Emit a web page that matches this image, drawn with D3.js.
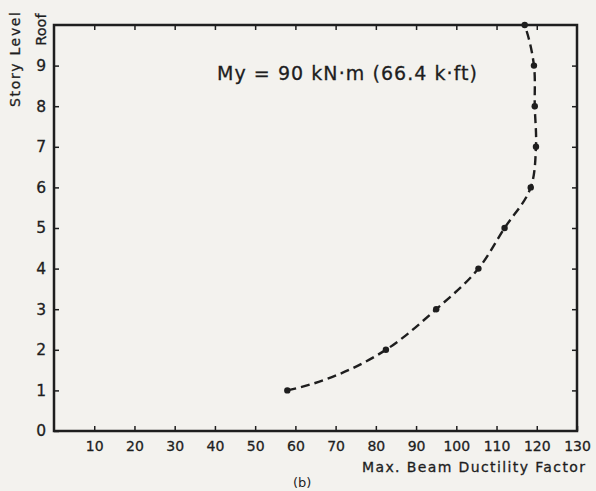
<!DOCTYPE html>
<html>
<head>
<meta charset="utf-8">
<script src="https://cdn.jsdelivr.net/npm/d3@7"></script>
<style>
  body { margin: 0; background: #f3f2ee; }
  svg { display: block; }
  text { font-family: "DejaVu Sans", sans-serif; fill: #1e1e1e; }
</style>
</head>
<body>
<div id="vis"></div>
<script>
// data
const LEVELS = [1, 2, 3, 4, 5, 6, 7, 8, 9, 10];
const DUCTILITY = [58, 82.5, 95, 105.5, 112, 118.5, 119.8, 119.5, 119.3, 117];
const X_TICKS = [10, 20, 30, 40, 50, 60, 70, 80, 90, 100, 110, 120, 130];
const Y_TICKS = [0, 1, 2, 3, 4, 5, 6, 7, 8, 9, 10];
const Y_LABELS = ["0", "1", "2", "3", "4", "5", "6", "7", "8", "9", "Roof"];

const FRAME_WIDTH = 596;
const FRAME_HEIGHT = 491;
const PLOT = {left: 54, right: 577, top: 25, bottom: 431};
const INK = "#1e1e1e";

const SVG = d3.select("#vis")
  .append("svg")
    .attr("width", FRAME_WIDTH)
    .attr("height", FRAME_HEIGHT);

const X_SCALE = d3.scaleLinear().domain([0, 130]).range([PLOT.left, PLOT.right]);
const Y_SCALE = d3.scaleLinear().domain([0, 10]).range([PLOT.bottom, PLOT.top]);

// smooth curve through the points, chord-weighted tangents,
// end tangents mirrored so the ends bend like a hand-drawn french curve
function curveHand(context) {
  let pts = [];
  return {
    areaStart() {}, areaEnd() {},
    lineStart() { pts = []; },
    point(x, y) { pts.push([+x, +y]); },
    lineEnd() {
      const n = pts.length;
      if (n === 0) return;
      context.moveTo(pts[0][0], pts[0][1]);
      if (n < 3) { pts.slice(1).forEach((p) => context.lineTo(p[0], p[1])); return; }
      const seg = [];
      for (let i = 0; i < n - 1; i++) {
        const dx = pts[i + 1][0] - pts[i][0], dy = pts[i + 1][1] - pts[i][1];
        const d = Math.hypot(dx, dy);
        seg.push({d: d, u: [dx / d, dy / d]});
      }
      const norm = (v) => { const l = Math.hypot(v[0], v[1]); return [v[0] / l, v[1] / l]; };
      const tan = new Array(n);
      for (let i = 1; i < n - 1; i++) {
        const a = seg[i - 1], b = seg[i];
        tan[i] = norm([b.d * a.u[0] + a.d * b.u[0], b.d * a.u[1] + a.d * b.u[1]]);
      }
      const mirror = (t, u) => {
        const k = t[0] * u[0] + t[1] * u[1];
        return norm([2 * k * u[0] - t[0], 2 * k * u[1] - t[1]]);
      };
      tan[0] = mirror(tan[1], seg[0].u);
      tan[n - 1] = mirror(tan[n - 2], seg[n - 2].u);
      for (let i = 0; i < n - 1; i++) {
        const h = seg[i].d / 3;
        context.bezierCurveTo(
          pts[i][0] + tan[i][0] * h, pts[i][1] + tan[i][1] * h,
          pts[i + 1][0] - tan[i + 1][0] * h, pts[i + 1][1] - tan[i + 1][1] * h,
          pts[i + 1][0], pts[i + 1][1]);
      }
    }
  };
}

// frame
SVG.append("rect")
  .attr("x", PLOT.left)
  .attr("y", PLOT.top)
  .attr("width", PLOT.right - PLOT.left)
  .attr("height", PLOT.bottom - PLOT.top)
  .attr("fill", "none")
  .attr("stroke", INK)
  .attr("stroke-width", 2.5);

// bottom axis, ticks pointing in
const xAxis = SVG.append("g")
  .attr("transform", "translate(0," + PLOT.bottom + ")")
  .call(d3.axisBottom(X_SCALE).tickValues(X_TICKS).tickSize(-5).tickPadding(10));
xAxis.select(".domain").remove();
xAxis.selectAll("line").attr("stroke", INK).attr("stroke-width", 1.5);
xAxis.selectAll("text").attr("font-size", "14px").style("fill", INK)
  .style("stroke", INK).style("stroke-width", 0.3);

// top ticks
const xTop = SVG.append("g")
  .attr("transform", "translate(0," + PLOT.top + ")")
  .call(d3.axisTop(X_SCALE).tickValues(X_TICKS.slice(0, -1)).tickSize(-5).tickFormat(""));
xTop.select(".domain").remove();
xTop.selectAll("line").attr("stroke", INK).attr("stroke-width", 1.5);

// left axis
const yAxis = SVG.append("g")
  .attr("transform", "translate(" + PLOT.left + ",0)")
  .call(d3.axisLeft(Y_SCALE).tickValues(Y_TICKS).tickSize(-5).tickPadding(8)
    .tickFormat((d, i) => Y_LABELS[i]));
yAxis.select(".domain").remove();
yAxis.selectAll("line").attr("stroke", INK).attr("stroke-width", 1.5);
yAxis.selectAll("text").attr("font-size", "15.5px").style("fill", INK)
  .style("stroke", INK).style("stroke-width", 0.3);
// roof label is written sideways
yAxis.selectAll(".tick")
  .filter((d) => d === 10)
  .select("text")
    .attr("x", null)
    .attr("dy", null)
    .attr("text-anchor", "end")
    .attr("transform", "translate(-8,-12) rotate(-90)")
    .attr("font-size", "14.5px");
yAxis.selectAll(".tick").filter((d) => d === 10).select("line").remove();

// right ticks
const yRight = SVG.append("g")
  .attr("transform", "translate(" + PLOT.right + ",0)")
  .call(d3.axisRight(Y_SCALE).tickValues(Y_TICKS.slice(1, -1)).tickSize(-5).tickFormat(""));
yRight.select(".domain").remove();
yRight.selectAll("line").attr("stroke", INK).attr("stroke-width", 1.5);

// axis titles
SVG.append("text")
  .attr("transform", "translate(20,12) rotate(-90)")
  .attr("text-anchor", "end")
  .attr("font-size", "14px")
  .attr("textLength", 95)
  .style("stroke", INK).style("stroke-width", 0.3)
  .text("Story  Level");

SVG.append("text")
  .attr("x", 585)
  .attr("y", 472)
  .attr("text-anchor", "end")
  .attr("font-size", "14px")
  .attr("textLength", 223)
  .style("stroke", INK).style("stroke-width", 0.3)
  .text("Max. Beam  Ductility  Factor");

SVG.append("text")
  .attr("x", 293)
  .attr("y", 487)
  .attr("font-size", "13px")
  .text("(b)");

SVG.append("text")
  .attr("x", 217)
  .attr("y", 80)
  .attr("font-size", "19px")
  .attr("textLength", 260)
  .style("stroke", INK).style("stroke-width", 0.3)
  .text("My = 90 kN\u00b7m (66.4 k\u00b7ft)");

// dashed curve
const pts = LEVELS.map((lv, i) => ({level: lv, mu: DUCTILITY[i]}));
const line = d3.line()
  .x((d) => X_SCALE(d.mu))
  .y((d) => Y_SCALE(d.level))
  .curve(curveHand);

SVG.append("path")
  .datum(pts)
  .attr("d", line)
  .attr("fill", "none")
  .attr("stroke", INK)
  .attr("stroke-width", 2.4)
  .attr("stroke-dasharray", "9,5");

SVG.selectAll(".pt")
  .data(pts)
  .enter()
  .append("circle")
    .attr("class", "pt")
    .attr("cx", (d) => X_SCALE(d.mu))
    .attr("cy", (d) => Y_SCALE(d.level))
    .attr("r", 3.2)
    .attr("fill", INK);
</script>
</body>
</html>
